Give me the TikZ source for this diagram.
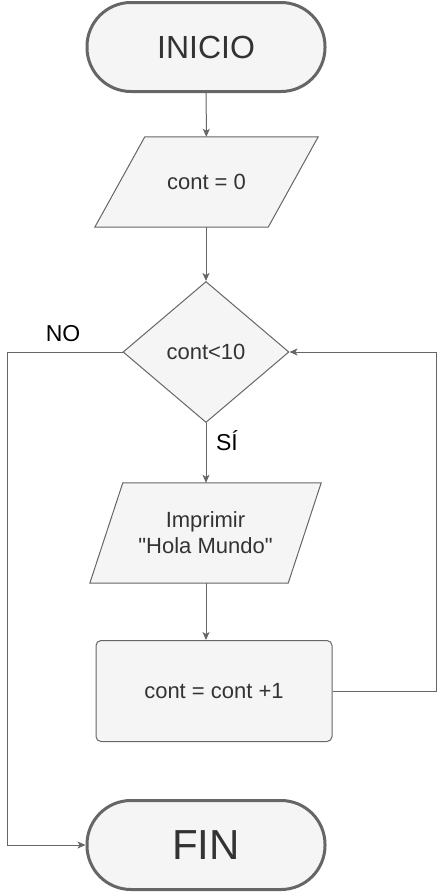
\documentclass[tikz,border=0pt]{standalone}
\usepackage{fontspec}
\setmainfont{Liberation Sans}[Ligatures=TeXOff]
\usetikzlibrary{arrows.meta,backgrounds,shapes.geometric}

\definecolor{boxfill}{HTML}{F5F5F5}
\definecolor{boxline}{HTML}{666666}
\definecolor{txtgray}{HTML}{333333}

\tikzset{
  terminal/.style={draw=boxline, fill=boxfill, line width=3pt, rounded corners=44pt,
    minimum width=238pt, minimum height=89pt, text=txtgray},
  iobox/.style={inner sep=0pt, text=txtgray, font=\fontsize{22}{26}\selectfont},
  ioline/.style={draw=boxline, fill=boxfill, line width=1pt},
  decision/.style={diamond, draw=boxline, fill=boxfill, line width=1pt, inner sep=0pt,
    minimum width=166pt, minimum height=141pt, text=txtgray, font=\fontsize{22}{26}\selectfont},
  process/.style={draw=boxline, fill=boxfill, line width=1pt, rounded corners=5pt,
    minimum width=236pt, minimum height=101pt, text=txtgray, font=\fontsize{22}{26}\selectfont},
  flow/.style={draw=boxline, line width=1pt, -{Stealth[length=8pt,width=7pt,inset=2pt]}},
  flowlabel/.style={text=black, font=\fontsize{23}{27}\selectfont}
}

\begin{document}
\begin{tikzpicture}[x=1pt, y=-1pt]
        \useasboundingbox (0,0) rectangle (445,892);

        % nodes
        \node[terminal, font=\fontsize{32}{38}\selectfont] (inicio) at (206,47) {INICIO};
        \node[iobox, minimum width=223pt, minimum height=90pt] (init) at (206.5,182) {cont = 0};
        \node[decision] (cond) at (206,352) {cont<10};
        \node[iobox, minimum width=231pt, minimum height=100pt, align=center] (print) at (205.5,533)
              {Imprimir\\ "Hola Mundo"};
        \node[process] (upd) at (214,691) {cont = cont +1};
        \node[terminal, font=\fontsize{42}{48}\selectfont] (fin) at (206,845) {FIN};

        % parallelograms behind the text
        \begin{scope}[on background layer]
          \path[ioline] ([xshift=50pt]init.north west) -- (init.north east)
                -- ([xshift=-50pt]init.south east) -- (init.south west) -- cycle;
          \path[ioline] ([xshift=33pt]print.north west) -- (print.north east)
                -- ([xshift=-33pt]print.south east) -- (print.south west) -- cycle;
        \end{scope}

        % connectors
        \draw[flow] (inicio) -- (init);
        \draw[flow] (init.south -| cond.north) -- (cond);
        \draw[flow] (cond.south) -- (print.north -| cond.south);
        \draw[flow] (print.south -| cond.south) -- (upd.north -| cond.south);
        \draw[flow] (upd.east) -- ++(104,0) |- (cond.east);
        \draw[flow] (cond.west) -- ++(-115,0) |- (fin.west);

        % labels
        \node[flowlabel] (si) at (227,441) {SÍ};
        \node[flowlabel] (no) at (63,334) {NO};
      \end{tikzpicture}
\end{document}
